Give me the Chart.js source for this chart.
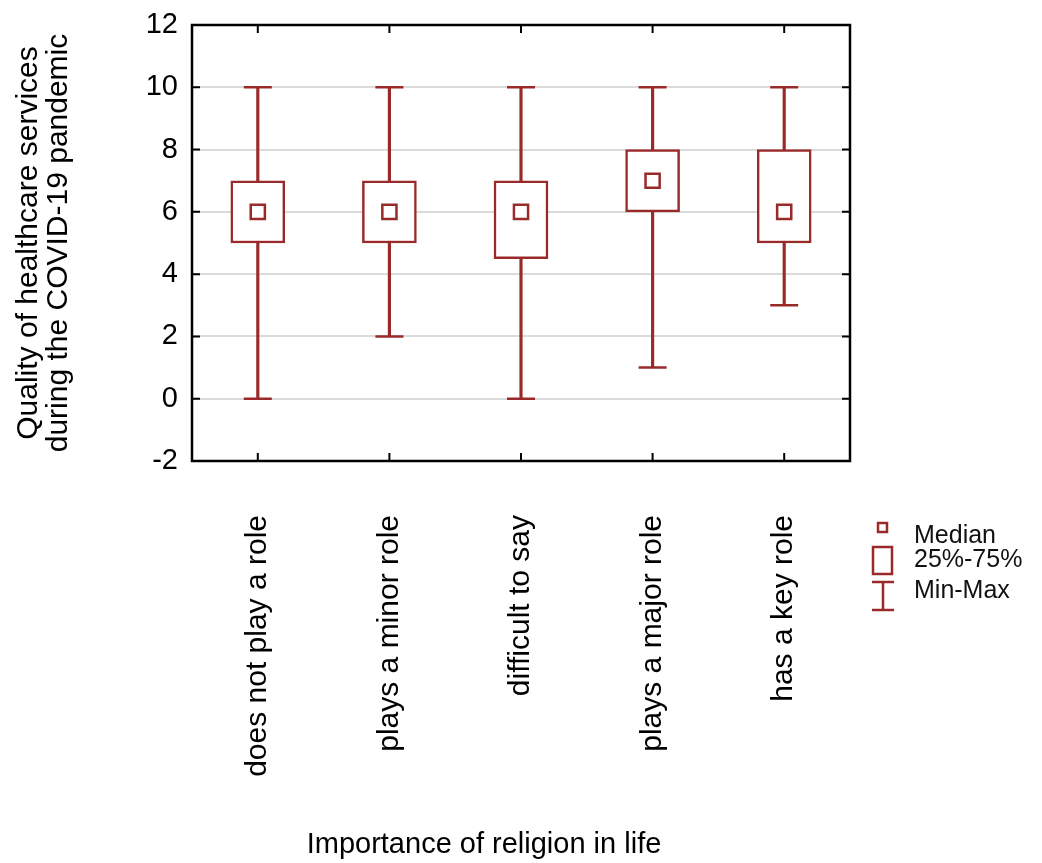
<!DOCTYPE html>
<html>
<head>
<meta charset="utf-8">
<script src="https://cdn.jsdelivr.net/npm/chart.js@4.4.1/dist/chart.umd.min.js"></script>
<style>
  html, body { margin: 0; padding: 0; background: #fff; }
  #wrap { width: 1042px; height: 863px; }
</style>
</head>
<body>
<div id="wrap"><canvas id="chart" width="1042" height="863"></canvas></div>
<script>
const categories = ['does not play a role', 'plays a minor role', 'difficult to say', 'plays a major role', 'has a key role'];
const minVals = [0, 2, 0, 1, 3];
const q1Vals = [5, 5, 4.5, 6, 5];
const medianVals = [6, 6, 6, 7, 6];
const q3Vals = [7, 7, 7, 8, 8];
const maxVals = [10, 10, 10, 10, 10];
const yTicks = [-2, 0, 2, 4, 6, 8, 10, 12];
const legendLabels = ['Median', '25%-75%', 'Min-Max'];

const RED = '#9a2a2a';
const FONT = '"Liberation Sans", Arial, Helvetica, sans-serif';

// frame, inner tick marks, x title and legend
const extras = {
  id: 'extras',
  afterDraw(chart) {
    const { ctx, chartArea: a, scales } = chart;
    ctx.save();
    ctx.strokeStyle = '#000';
    ctx.lineWidth = 2.5;
    ctx.strokeRect(a.left, a.top, a.right - a.left, a.bottom - a.top);
    ctx.lineWidth = 2;
    ctx.beginPath();
    yTicks.forEach(v => {
      const y = scales.y.getPixelForValue(v);
      ctx.moveTo(a.left, y); ctx.lineTo(a.left + 8, y);
      ctx.moveTo(a.right, y); ctx.lineTo(a.right - 8, y);
    });
    categories.forEach((c, i) => {
      const x = scales.x.getPixelForValue(i);
      ctx.moveTo(x, a.top); ctx.lineTo(x, a.top + 8);
      ctx.moveTo(x, a.bottom); ctx.lineTo(x, a.bottom - 8);
    });
    ctx.stroke();

    ctx.fillStyle = '#000';
    ctx.font = '29px ' + FONT;
    ctx.textAlign = 'center';
    ctx.textBaseline = 'middle';
    ctx.fillText('Importance of religion in life', 484, 845);

    // legend
    ctx.strokeStyle = RED;
    ctx.lineWidth = 2.5;
    ctx.strokeRect(878, 523, 9, 9);
    ctx.strokeRect(873, 547, 19, 27);
    ctx.beginPath();
    ctx.moveTo(872, 582); ctx.lineTo(894, 582);
    ctx.moveTo(883, 582); ctx.lineTo(883, 610);
    ctx.moveTo(872, 610); ctx.lineTo(894, 610);
    ctx.stroke();
    ctx.fillStyle = '#111';
    ctx.font = '25px ' + FONT;
    ctx.textAlign = 'left';
    ctx.fillText(legendLabels[0], 914, 536);
    ctx.fillText(legendLabels[1], 914, 560);
    ctx.fillText(legendLabels[2], 914, 591);
    ctx.restore();
  }
};

new Chart(document.getElementById('chart'), {
  type: 'bar',
  data: {
    labels: categories,
    datasets: [
      {
        label: 'Min-Max',
        data: minVals.map((v, i) => [v, maxVals[i]]),
        backgroundColor: RED,
        borderWidth: 0,
        barThickness: 2.5,
        grouped: false,
        order: 5
      },
      {
        label: '25%-75%',
        data: q1Vals.map((v, i) => [v, q3Vals[i]]),
        backgroundColor: '#fff',
        borderColor: RED,
        borderWidth: 2.5,
        borderSkipped: false,
        barThickness: 54,
        grouped: false,
        order: 4
      },
      {
        type: 'line',
        label: 'max cap',
        data: maxVals,
        showLine: false,
        pointStyle: 'line',
        pointRadius: 14,
        pointBorderWidth: 2.5,
        borderColor: RED,
        order: 3
      },
      {
        type: 'line',
        label: 'min cap',
        data: minVals,
        showLine: false,
        pointStyle: 'line',
        pointRadius: 14,
        pointBorderWidth: 2.5,
        borderColor: RED,
        order: 2
      },
      {
        type: 'line',
        label: 'Median',
        data: medianVals,
        showLine: false,
        pointStyle: 'rect',
        pointRadius: 10,
        pointBorderWidth: 2.5,
        pointBackgroundColor: '#fff',
        borderColor: RED,
        order: 1
      }
    ]
  },
  options: {
    responsive: false,
    animation: false,
    devicePixelRatio: 1,
    layout: { padding: { left: 0, right: 192, top: 25, bottom: 0 } },
    plugins: { legend: { display: false }, tooltip: { enabled: false } },
    scales: {
      x: {
        grid: { display: false, drawTicks: false },
        border: { display: false },
        ticks: {
          autoSkip: false,
          minRotation: 90,
          maxRotation: 90,
          padding: 54,
          color: '#000',
          font: { family: FONT, size: 30 }
        },
        afterFit(scale) { scale.height = 402; }
      },
      y: {
        min: -2,
        max: 12,
        afterBuildTicks(scale) { scale.ticks = yTicks.map(v => ({ value: v })); },
        grid: {
          drawTicks: false,
          lineWidth: 2,
          color: c => (c.tick && (c.tick.value === 12 || c.tick.value === -2)) ? 'rgba(0,0,0,0)' : '#dadada'
        },
        border: { display: false },
        ticks: {
          padding: 14,
          color: '#000',
          font: { family: FONT, size: 29, lineHeight: 0.75 }
        },
        title: {
          display: true,
          text: ['Quality of healthcare services', 'during the COVID-19 pandemic'],
          color: '#000',
          font: { family: FONT, size: 30, lineHeight: 1.0 },
          padding: { top: 14, bottom: 0 }
        },
        afterFit(scale) { scale.width = 192; }
      }
    }
  },
  plugins: [extras]
});
</script>
</body>
</html>
